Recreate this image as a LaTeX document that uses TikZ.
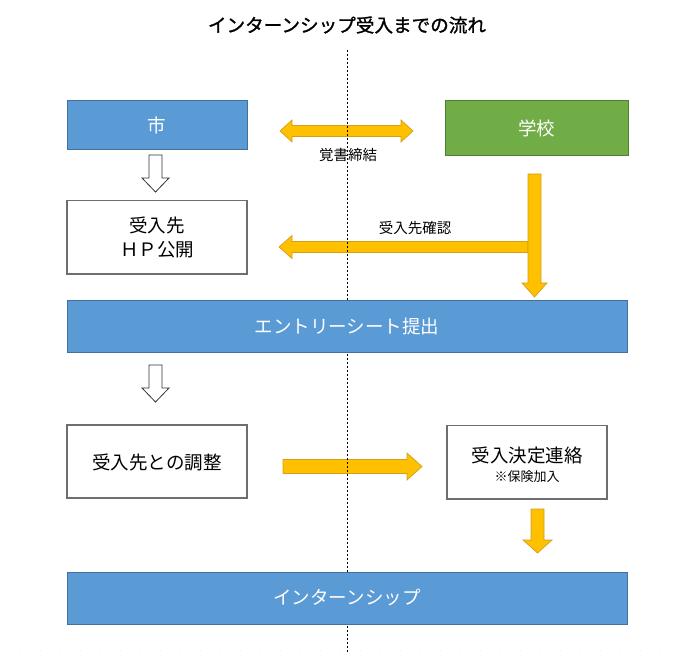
\documentclass[tikz,border=0pt]{standalone}
\usepackage{fontspec}
\setmainfont{Noto Sans CJK JP}
\newfontfamily\titlefont[FakeBold=1.2]{Noto Sans CJK JP}
\definecolor{boxblue}{HTML}{5B9BD5}
\definecolor{boxblueline}{HTML}{41719C}
\definecolor{boxgreen}{HTML}{70AD47}
\definecolor{boxgreenline}{HTML}{507E32}
\definecolor{arrowyellow}{HTML}{FFC000}
\definecolor{arrowyellowline}{HTML}{D4A017}
\definecolor{framegray}{HTML}{6E6E6E}
\begin{document}
\begin{tikzpicture}[x=1pt,y=-1pt,
  bluebox/.style={fill=boxblue,draw=boxblueline,line width=0.8pt},
  greenbox/.style={fill=boxgreen,draw=boxgreenline,line width=0.8pt},
  whitebox/.style={fill=white,draw=framegray,line width=1.2pt},
  yarrow/.style={fill=arrowyellow,draw=arrowyellowline,line width=0.7pt,line join=miter},
  harrow/.style={fill=white,draw=black!80,line width=0.8pt,line join=miter},
  lbl/.style={inner sep=0pt,font=\fontsize{18.5}{22}\selectfont},
  wlbl/.style={lbl,text=white},
  small/.style={inner sep=0pt,font=\fontsize{14.5}{17}\selectfont},
  divider/.style={black,line width=0.9pt,dash pattern=on 2pt off 2pt}
]
\useasboundingbox (0,0) rectangle (696,652);

% title
\node[inner sep=0pt,font=\fontsize{18.6}{22}\titlefont] (title) at (347,25) {インターンシップ受入までの流れ};

% faint page edge
\draw[gray!15,line width=0.6pt,dash pattern=on 1pt off 19pt] (20,650.5) -- (676,650.5);

% yellow arrows
\draw[yarrow] (280,131) -- (292,120) -- (292,125.5) -- (401,125.5) -- (401,120) -- (413,131)
  -- (401,142) -- (401,136.5) -- (292,136.5) -- (292,142) -- cycle;
\draw[yarrow] (279,247) -- (292,235.5) -- (292,241.5) -- (528,241.5) -- (528,252.5)
  -- (292,252.5) -- (292,258.5) -- cycle;
\draw[yarrow] (528,174) -- (541,174) -- (541,283) -- (547,283) -- (534.5,297) -- (522,283)
  -- (528,283) -- cycle;
\draw[yarrow] (283,459.5) -- (407,459.5) -- (407,453) -- (422,466.5) -- (407,480) -- (407,473.5)
  -- (283,473.5) -- cycle;
\draw[yarrow] (531,509) -- (544,509) -- (544,540) -- (552,540) -- (537.5,553) -- (523,540)
  -- (531,540) -- cycle;

% hollow arrows
\draw[harrow] (149,155) -- (162,155) -- (162,178) -- (169,178) -- (155.5,192) -- (142,178)
  -- (149,178) -- cycle;
\draw[harrow] (149,365) -- (162,365) -- (162,388) -- (169,388) -- (155.5,402) -- (142,388)
  -- (149,388) -- cycle;

% divider
\coordinate (dtop) at (347.5,50);
\coordinate (dbot) at (347.5,652);
\draw[divider] (dtop) -- (dbot);

% boxes
\draw[bluebox] (67,100) rectangle (247,149);
\node[wlbl] (city) at (157,125) {市};
\draw[greenbox] (445,100) rectangle (628,155);
\node[wlbl] (school) at (536.5,128) {学校};
\node[small] (memo) at (348,155) {覚書締結};

\draw[whitebox] (67,200.5) rectangle (247,274);
\node[lbl] (hp1) at (157,225) {受入先};
\node[lbl] (hp2) at (157,250) {ＨＰ公開};
\node[small] (confirm) at (415,228) {受入先確認};

\draw[bluebox] (67,300) rectangle (627,352);
\node[wlbl] (entry) at (347,326) {エントリーシート提出};

\draw[whitebox] (67,425) rectangle (247,498);
\node[lbl] (adjust) at (157,462) {受入先との調整};

\draw[whitebox] (447,425.5) rectangle (607,499);
\node[lbl] (decide) at (527,455) {受入決定連絡};
\node[inner sep=0pt,font=\fontsize{13}{15}\selectfont] (insure) at (527,477) {※保険加入};

\draw[bluebox] (67,572) rectangle (627,624);
\node[wlbl] (intern) at (347,598) {インターンシップ};
\end{tikzpicture}
\end{document}
